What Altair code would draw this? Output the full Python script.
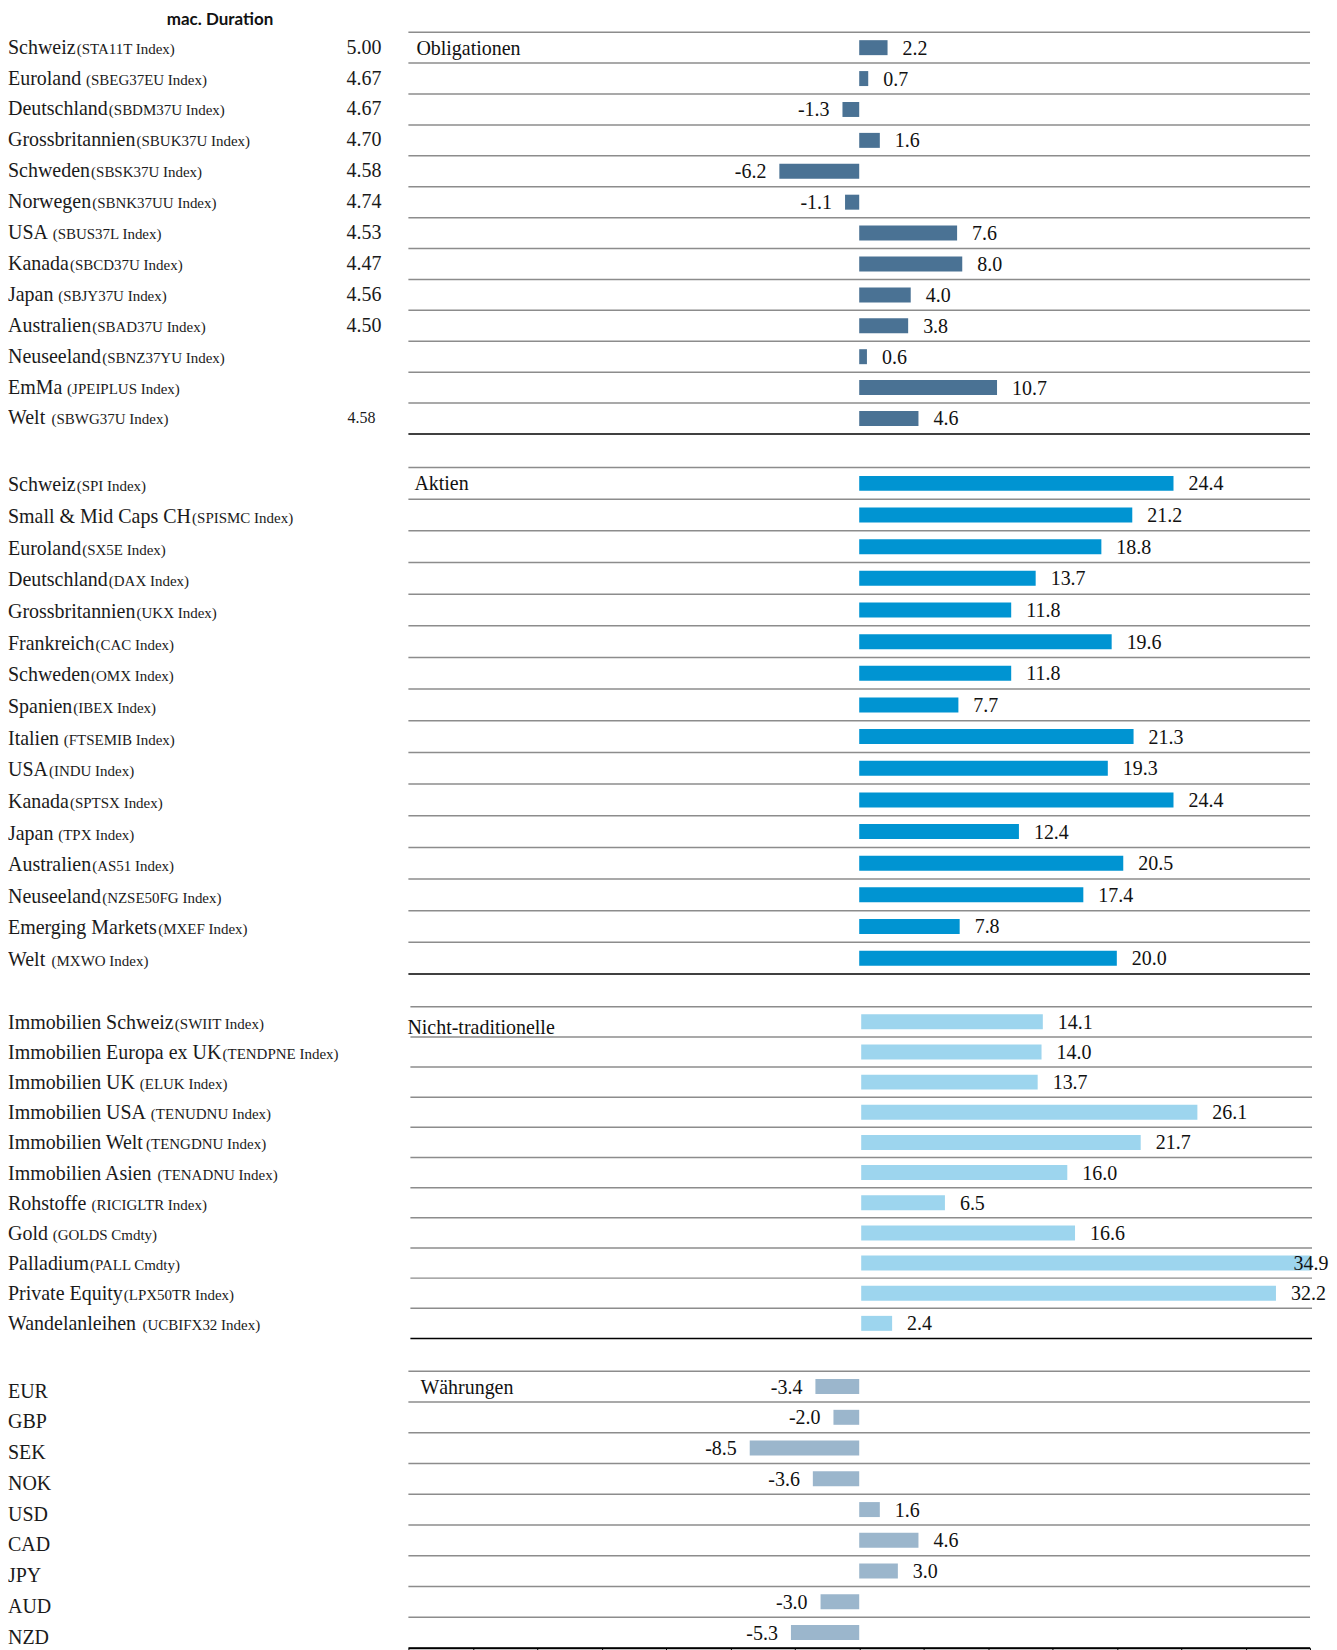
import altair as alt
import pandas as pd

header = "mac. Duration"
section_titles = ["Obligationen", "Aktien", "Nicht-traditionelle", "Währungen"]

# --- Obligationen ---
obl_names = ["Schweiz", "Euroland", "Deutschland", "Grossbritannien", "Schweden", "Norwegen",
             "USA", "Kanada", "Japan", "Australien", "Neuseeland", "EmMa", "Welt"]
obl_codes = ["(STA11T Index)", " (SBEG37EU Index)", "(SBDM37U Index)", "(SBUK37U Index)",
             "(SBSK37U Index)", "(SBNK37UU Index)", " (SBUS37L Index)", "(SBCD37U Index)",
             " (SBJY37U Index)", "(SBAD37U Index)", "(SBNZ37YU Index)", " (JPEIPLUS Index)",
             " (SBWG37U Index)"]
obl_durations = ["5.00", "4.67", "4.67", "4.70", "4.58", "4.74", "4.53", "4.47", "4.56", "4.50",
                 "", "", "4.58"]
obl_values = [2.2, 0.7, -1.3, 1.6, -6.2, -1.1, 7.6, 8.0, 4.0, 3.8, 0.6, 10.7, 4.6]

# --- Aktien ---
akt_names = ["Schweiz", "Small & Mid Caps CH", "Euroland", "Deutschland", "Grossbritannien",
             "Frankreich", "Schweden", "Spanien", "Italien", "USA", "Kanada", "Japan",
             "Australien", "Neuseeland", "Emerging Markets", "Welt"]
akt_codes = ["(SPI Index)", "(SPISMC Index)", "(SX5E Index)", "(DAX Index)", "(UKX Index)",
             "(CAC Index)", "(OMX Index)", "(IBEX Index)", " (FTSEMIB Index)", "(INDU Index)",
             "(SPTSX Index)", " (TPX Index)", "(AS51 Index)", "(NZSE50FG Index)", "(MXEF Index)",
             " (MXWO Index)"]
akt_values = [24.4, 21.2, 18.8, 13.7, 11.8, 19.6, 11.8, 7.7, 21.3, 19.3, 24.4, 12.4, 20.5,
              17.4, 7.8, 20.0]

# --- Nicht-traditionelle ---
nt_names = ["Immobilien Schweiz", "Immobilien Europa ex UK", "Immobilien UK", "Immobilien USA",
            "Immobilien Welt", "Immobilien Asien", "Rohstoffe", "Gold", "Palladium",
            "Private Equity", "Wandelanleihen"]
nt_codes = ["(SWIIT Index)", "(TENDPNE Index)", " (ELUK Index)", " (TENUDNU Index)",
            "(TENGDNU Index)", " (TENADNU Index)", " (RICIGLTR Index)", " (GOLDS Cmdty)",
            "(PALL Cmdty)", "(LPX50TR Index)", " (UCBIFX32 Index)"]
nt_values = [14.1, 14.0, 13.7, 26.1, 21.7, 16.0, 6.5, 16.6, 34.9, 32.2, 2.4]

# --- Währungen ---
fx_names = ["EUR", "GBP", "SEK", "NOK", "USD", "CAD", "JPY", "AUD", "NZD"]
fx_codes = [""] * 9
fx_values = [-3.4, -2.0, -8.5, -3.6, 1.6, 4.6, 3.0, -3.0, -5.3]

SERIF = "Liberation Serif"
TXT = "#1a1a1a"

# Times-compatible advance widths (per 1000 em) to place the index codes after the names
TNR = {" ": 250, "&": 778, "(": 333, ")": 333, "-": 333, ".": 250,
       "A": 722, "B": 667, "C": 667, "D": 722, "E": 611, "F": 556, "G": 722, "H": 722,
       "I": 333, "J": 389, "K": 722, "L": 611, "M": 889, "N": 722, "O": 722, "P": 556,
       "Q": 722, "R": 667, "S": 556, "T": 611, "U": 722, "V": 722, "W": 944, "X": 722,
       "Y": 722, "Z": 611,
       "a": 444, "b": 500, "c": 444, "d": 500, "e": 444, "f": 333, "g": 500, "h": 500,
       "i": 278, "j": 278, "k": 500, "l": 278, "m": 778, "n": 500, "o": 500, "p": 500,
       "q": 500, "r": 333, "s": 389, "t": 278, "u": 500, "v": 500, "w": 722, "x": 500,
       "y": 500, "z": 444, "ä": 444}


def text_width(s, size):
    return sum(TNR.get(c, 500) for c in s) * size / 1000.0


LABEL_W = 400
BAR_W = 903
FMT = "replace(format(datum.value, '.1f'), '\u2212', '-')"


def make_df(names, codes, values, durations=None):
    rows = []
    for i, (n, c, v) in enumerate(zip(names, codes, values)):
        lead = len(c) - len(c.lstrip(" "))
        rows.append({
            "key": f"r{i:02d}",
            "name": n,
            "code": c.strip(),
            "codex": text_width(n, 20) + lead * text_width(" ", 15) + 1,
            "value": v,
            "dur": durations[i] if durations else "",
        })
    return pd.DataFrame(rows)


def section(df, title, color, step, label_dy, title_dx, title_dy, last=False):
    last_key = df["key"].iloc[-1]
    yscale = alt.Scale(type="band", paddingInner=0, paddingOuter=0)

    def Y(**kw):
        return alt.Y("key:O", axis=None, scale=yscale, **kw)

    base = alt.Chart(df)
    name_t = base.mark_text(align="left", baseline="alphabetic", font=SERIF, fontSize=20,
                            dy=7 + label_dy, color=TXT).encode(
        x=alt.value(0), y=Y(), text="name:N")
    code_t = base.mark_text(align="left", baseline="alphabetic", font=SERIF, fontSize=15,
                            dy=7 + label_dy, color=TXT).encode(
        x=alt.X("codex:Q", scale=alt.Scale(domain=[0, LABEL_W], nice=False, zero=False),
                axis=None),
        y=Y(), text="code:N")
    layers = [name_t, code_t]
    if (df["dur"] != "").any():
        dur_t = base.transform_filter(alt.datum.key != last_key).mark_text(
            align="right", baseline="alphabetic", font=SERIF, fontSize=20,
            dy=7 + label_dy, color=TXT).encode(x=alt.value(374), y=Y(), text="dur:N")
        dur_last = base.transform_filter(alt.datum.key == last_key).mark_text(
            align="right", baseline="alphabetic", font=SERIF, fontSize=16,
            dy=6 + label_dy, color=TXT).encode(x=alt.value(368), y=Y(), text="dur:N")
        layers += [dur_t, dur_last]
    label_panel = alt.layer(*layers).properties(width=LABEL_W, height=alt.Step(step))

    xscale = alt.Scale(domain=[-35, 35], nice=False, zero=True)
    if last:
        xaxis = alt.Axis(values=list(range(-35, 36, 5)), labels=False, ticks=True, tickSize=6,
                         tickColor="#000", tickWidth=1, domain=True, domainColor="#000",
                         domainWidth=1.5, grid=False, title=None)
    else:
        xaxis = None

    rules = base.mark_rule(color="#8c8c8c", strokeWidth=1.5).encode(
        x=alt.X(datum=-35, scale=xscale, axis=xaxis), x2=alt.X2(datum=35),
        y=Y(bandPosition=0))
    bottom = base.transform_filter(alt.datum.key == last_key).mark_rule(
        color="#000", strokeWidth=1.5).encode(
        x=alt.X(datum=-35, scale=xscale, axis=xaxis), x2=alt.X2(datum=35),
        y=Y(bandPosition=1))
    bars = base.mark_bar(height=15, color=color).encode(
        x=alt.X("value:Q", scale=xscale, axis=xaxis), y=Y())
    pos = base.transform_filter(alt.datum.value >= 0).transform_calculate(
        lx="min(datum.value, 32.4)", lbl=FMT).mark_text(
        align="left", baseline="alphabetic", dx=15, dy=7, font=SERIF, fontSize=20,
        color="#111").encode(x=alt.X("lx:Q", scale=xscale, axis=xaxis), y=Y(), text="lbl:N")
    neg = base.transform_filter(alt.datum.value < 0).transform_calculate(lbl=FMT).mark_text(
        align="right", baseline="alphabetic", dx=-13, dy=7, font=SERIF, fontSize=20,
        color="#111").encode(x=alt.X("value:Q", scale=xscale, axis=xaxis), y=Y(), text="lbl:N")
    ttl = base.transform_filter(alt.datum.key == "r00").mark_text(
        align="left", baseline="alphabetic", dy=7 + title_dy, font=SERIF, fontSize=20,
        color="#111", text=title).encode(x=alt.value(title_dx), y=Y())
    bar_panel = alt.layer(rules, bottom, bars, pos, neg, ttl).properties(
        width=BAR_W, height=alt.Step(step))
    return alt.hconcat(label_panel, bar_panel, spacing=0).resolve_scale(
        x="independent", y="independent")


s1 = section(make_df(obl_names, obl_codes, obl_values, obl_durations), section_titles[0],
             "#4a7294", 30.95, -1, 8, 0)
s2 = section(make_df(akt_names, akt_codes, akt_values), section_titles[1],
             "#0094d2", 31.7, 1, 6, 0)
s3 = section(make_df(nt_names, nt_codes, nt_values), section_titles[2],
             "#9dd5ee", 30.2, 0, -3, 5)
s4 = section(make_df(fx_names, fx_codes, fx_values), section_titles[3],
             "#9bb6cc", 30.8, 4, 12, 0, last=True)

chart = alt.vconcat(s1, s2, s3, s4, spacing=31).resolve_scale(
    x="independent", y="independent").properties(
    padding={"top": 2, "left": 0, "right": 0, "bottom": 0},
    background="white",
    title=alt.TitleParams(header, anchor="start", dx=159, font="Lato", fontSize=17,
                          fontWeight="bold", color="#111", offset=2)
).configure_view(strokeWidth=0, stroke="transparent")

chart.save("out.html", embed_options={"renderer": "svg", "actions": False})
